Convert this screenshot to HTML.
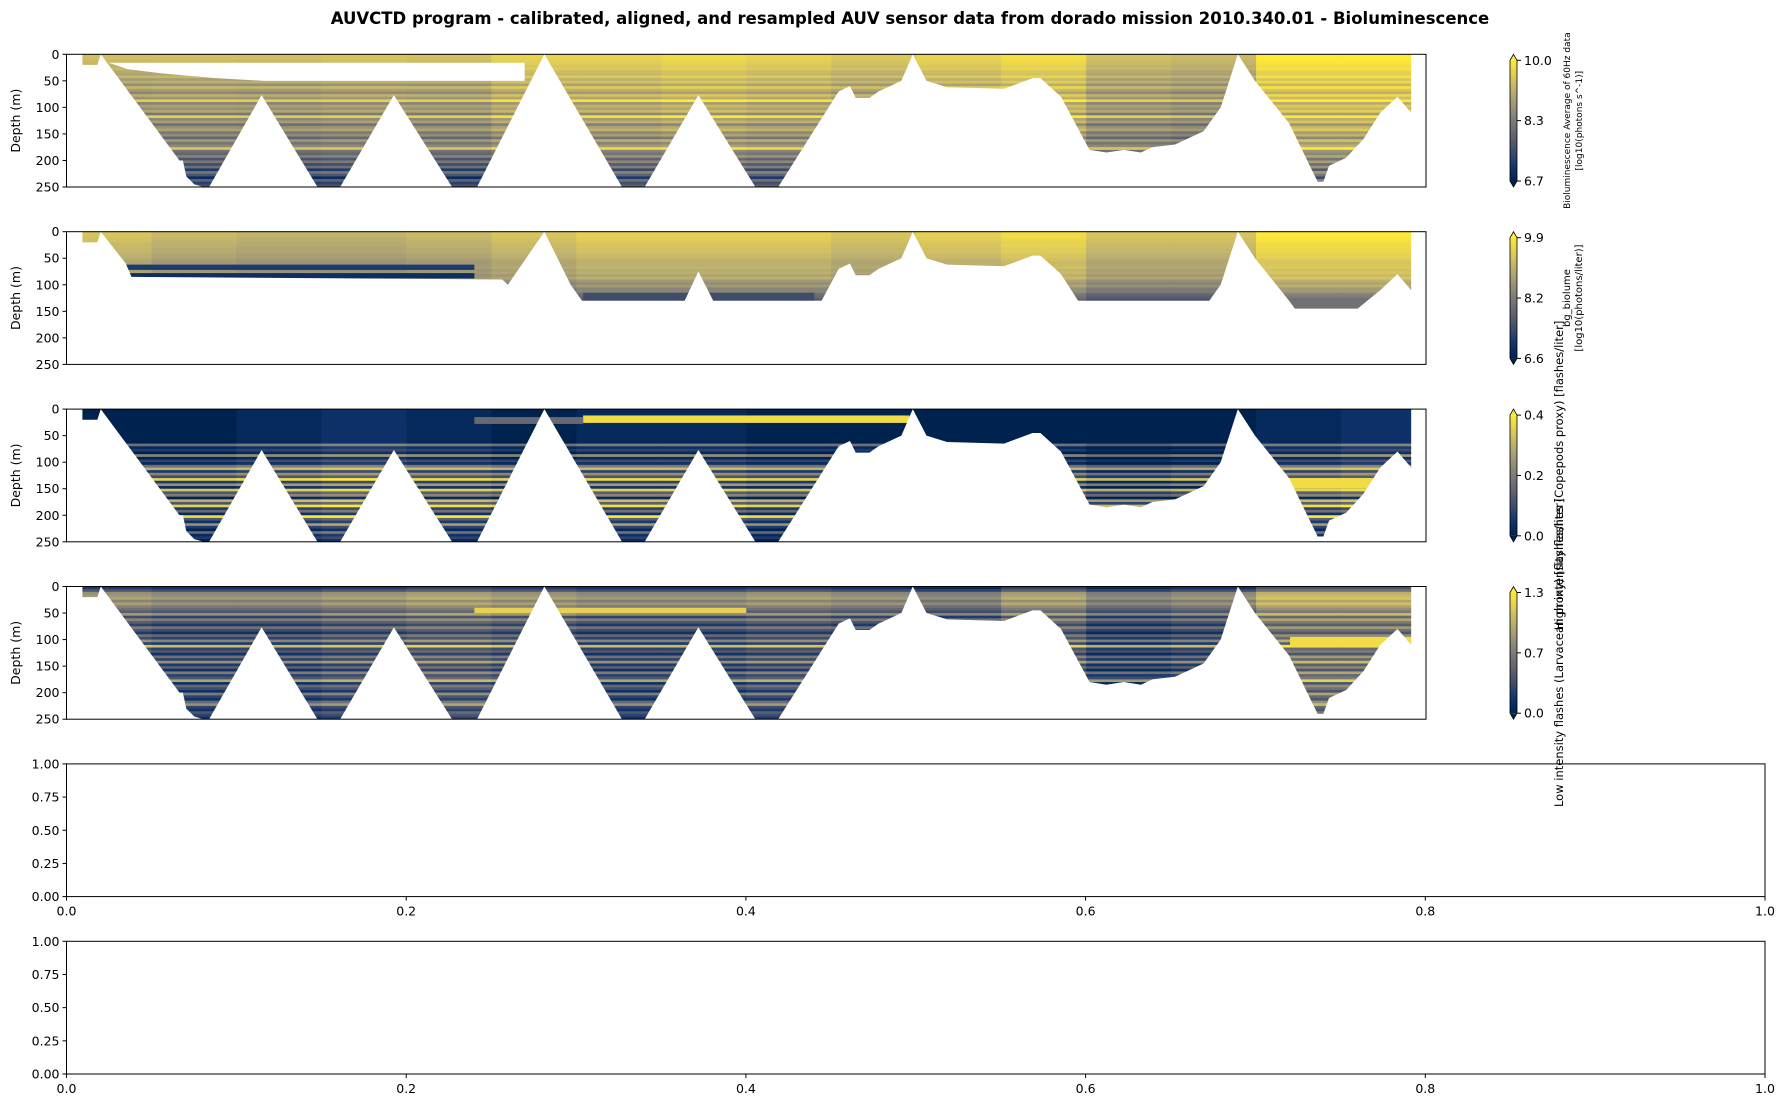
<!DOCTYPE html>
<html><head><meta charset="utf-8"><style>
html,body{margin:0;padding:0;background:#fff;}
svg{display:block;font-family:"DejaVu Sans","Liberation Sans",sans-serif;}
</style></head><body>
<svg id="fig" width="1787" height="1108" viewBox="0 0 1787 1108" xmlns="http://www.w3.org/2000/svg">
<text x="910" y="24" text-anchor="middle" font-size="16.5" font-weight="bold">AUVCTD program - calibrated, aligned, and resampled AUV sensor data from dorado mission 2010.340.01 - Bioluminescence</text>
</svg>
<script>
// ---- data ----
const depthTicks = [0,50,100,150,200,250];
const unitTicks = ["0.00","0.25","0.50","0.75","1.00"];
const xTicks = ["0.0","0.2","0.4","0.6","0.8","1.0"];
const profileMain = [[0.0117,20],[0.0227,20],[0.0252,0],[0.0831,200],[0.0856,200],[0.0881,230],[0.094,245],[0.1007,250],[0.1049,250],[0.1435,77],[0.1846,250],[0.2013,250],[0.2408,77],[0.2836,250],[0.302,250],[0.3515,0],[0.4086,250],[0.4253,250],[0.4648,77],[0.5067,250],[0.5235,250],[0.568,70],[0.5763,60],[0.5805,82],[0.5906,82],[0.5973,70],[0.6141,50],[0.6225,0],[0.6326,50],[0.6477,62],[0.6896,65],[0.7106,45],[0.7164,45],[0.7315,80],[0.7525,180],[0.765,185],[0.7777,180],[0.7903,185],[0.7987,175],[0.8154,170],[0.8364,145],[0.849,100],[0.8616,0],[0.8742,50],[0.8993,130],[0.9203,240],[0.9245,240],[0.9287,210],[0.9413,195],[0.9539,160],[0.9664,110],[0.979,80],[0.9891,110]];
const profileBg = [[0.0117,20],[0.0227,20],[0.0252,0],[0.0436,60],[0.0478,85],[0.3205,90],[0.3247,100],[0.3515,0],[0.3708,100],[0.3792,130],[0.4547,130],[0.4648,75],[0.4757,130],[0.5554,130],[0.568,70],[0.5763,60],[0.5805,82],[0.5906,82],[0.5973,70],[0.6141,50],[0.6225,0],[0.6326,50],[0.6477,62],[0.6896,65],[0.7106,45],[0.7164,45],[0.7315,80],[0.7441,130],[0.8406,130],[0.849,100],[0.8616,0],[0.8742,50],[0.8993,130],[0.9035,145],[0.9497,145],[0.9664,110],[0.979,80],[0.9891,110]];
const rowsP1 = [0.86,0.86,0.84,0.83,0.8,0.82,0.76,0.74,0.82,0.7,0.78,0.64,0.82,0.7,0.6,0.78,0.66,0.92,0.58,0.72,0.64,0.74,0.52,0.92,0.6,0.7,0.48,0.64,0.72,0.52,0.62,0.42,0.68,0.5,0.6,0.88,0.48,0.42,0.56,0.32,0.52,0.28,0.46,0.18,0.5,0.32,0.1,0.4,0.22,0.3];
const colsP1 = [-0.04,-0.03,-0.04,-0.02,-0.03,0.05,0.05,0.08,0.05,0.0,0.05,0.1,-0.03,-0.06,0.15,0.15];
const patchesP1 = [];
const rowsP2 = [0.85,0.85,0.83,0.82,0.8,0.8,0.78,0.78,0.76,0.75,0.72,0.7,0.7,0.72,0.68,0.7,0.65,0.7,0.6,0.55,0.6,0.5,0.5,0.4,0.35,0.3,0.3,0.3,0.3,0.3,0.3,0.3,0.3,0.3,0.3,0.3,0.3,0.3,0.3,0.3,0.3,0.3,0.3,0.3,0.3,0.3,0.3,0.3,0.3,0.3];
const colsP2 = [0,-0.05,-0.08,-0.08,-0.05,0,0.05,0.05,0.05,0,0.05,0.1,0.0,0.0,0.15,0.15];
const patchesP2 = [[0.04,0.3,62,72,0.15],[0.04,0.3,78,88,0.08],[0.38,0.55,115,130,0.25]];
const rowsP3 = [0,0,0,0,0,0,0,0,0,0,0,0,0,0.45,0.05,0.15,0,0.55,0,0.2,0.05,0.45,0.75,0.15,0.55,0.25,0.9,0.15,0.6,0.05,0.85,0.3,0.5,0,0.75,0.3,0.9,0.15,0.4,0.05,0.95,0.3,0.1,0.6,0.15,0,0.4,0.05,0.15,0];
const colsP3 = [0,0,0.05,0.1,0.05,0,0.05,0.05,0,0,0,0,-0.1,-0.05,0.05,0.1];
const patchesP3 = [[0.38,0.62,12,26,0.95],[0.3,0.38,15,28,0.4],[0.9,0.97,130,150,0.95]];
const rowsP4 = [0.1,0.25,0.55,0.6,0.65,0.5,0.62,0.5,0.4,0.3,0.6,0.2,0.5,0.3,0.15,0.45,0.25,0.1,0.4,0.2,0.55,0.15,0.8,0.2,0.3,0.1,0.45,0.2,0.6,0.15,0.35,0.1,0.5,0.2,0.3,0.7,0.1,0.4,0.25,0.1,0.5,0.2,0.1,0.4,0.6,0.2,0.1,0.3,0.2,0.1];
const colsP4 = [0.05,0,0,0.05,0.1,0.05,0,0,0.05,0,-0.05,0.1,-0.05,0,0.2,0.2];
const patchesP4 = [[0.3,0.5,40,50,0.9],[0.9,0.99,95,115,0.95]];
const cbTicksP1 = ["10.0","8.3","6.7"];
const cbTicksP2 = ["9.9","8.2","6.6"];
const cbTicksP3 = ["0.4","0.2","0.0"];
const cbTicksP4 = ["1.3","0.7","0.0"];

// ---- layout ----
const NS="http://www.w3.org/2000/svg";
const svg=document.getElementById('fig');
const AX_L=66.5, AX_R=1426, AX_R2=1765, H=132.7;
const tops=[54.3,231.7,409.1,586.5,763.9,941.3];
function mk(tag,attrs,parent){const e=document.createElementNS(NS,tag);for(const k in attrs)e.setAttribute(k,attrs[k]);(parent||svg).appendChild(e);return e;}
const stops=[[0,[0,34,78]],[0.125,[18,53,112]],[0.25,[63,77,107]],[0.375,[96,99,112]],[0.5,[124,123,120]],[0.625,[155,148,119]],[0.75,[188,175,111]],[0.875,[223,203,90]],[1,[254,232,56]]];
function cmap(v){v=Math.max(0,Math.min(1,v));for(let i=1;i<stops.length;i++){if(v<=stops[i][0]){const a=stops[i-1],b=stops[i];const t=(v-a[0])/(b[0]-a[0]);const c=a[1].map((x,j)=>Math.round(x+(b[1][j]-x)*t));return `rgb(${c[0]},${c[1]},${c[2]})`;}}return 'rgb(254,232,56)';}

const panels=[
 {rows:rowsP1,cols:colsP1,patches:patchesP1,prof:profileMain,cb:cbTicksP1,name:'biolume-avg'},
 {rows:rowsP2,cols:colsP2,patches:patchesP2,prof:profileBg,cb:cbTicksP2,name:'bg-biolume'},
 {rows:rowsP3,cols:colsP3,patches:patchesP3,prof:profileMain,cb:cbTicksP3,name:'high-intensity-flashes'},
 {rows:rowsP4,cols:colsP4,patches:patchesP4,prof:profileMain,cb:cbTicksP4,name:'low-intensity-flashes'}
];
panels.forEach((p,i)=>{
 const top=tops[i], W=AX_R-AX_L;
 const xs=f=>AX_L+f*W, ys=d=>top+d/250*H;
 const g=mk('g',{});
 
 
 const cp=mk('clipPath',{id:'cp'+i},g);
 mk('rect',{x:AX_L,y:top,width:W,height:H},cp);
 const hm=mk('g',{'clip-path':`url(#cp${i})`},g);
 
 
 const nr=p.rows.length, nc=p.cols.length;
 for(let r=0;r<nr;r++)for(let c=0;c<nc;c++){
   const v=p.rows[r]+p.cols[c];
   const el=mk('rect',{x:xs(c/nc),y:ys(r*250/nr),width:W/nc+0.6,height:H/nr+0.6,fill:cmap(v)},hm);
   
   
 }
 p.patches.forEach(pt=>{
   const el=mk('rect',{x:xs(pt[0]),y:ys(pt[2]),width:xs(pt[1])-xs(pt[0]),height:ys(pt[3])-ys(pt[2]),fill:cmap(pt[4])},hm);
   
   
 });
 const pr=p.prof;
 let d=`M${xs(0)},${ys(0)} L${xs(pr[0][0])},${ys(0)} L${xs(pr[0][0])},${ys(pr[0][1])} `;
 pr.forEach(q=>{d+=`L${xs(q[0])},${ys(q[1])} `;});
 const last=pr[pr.length-1][0];
 d+=`L${xs(last)},${ys(0)} L${xs(1)},${ys(0)} L${xs(1)},${ys(260)} L${xs(0)},${ys(260)} Z`;
 const m=mk('path',{d:d,fill:'#fff'},hm);
 
 
 if(i===0){
   const wb=mk('polygon',{points:`${xs(0.031)},${ys(16)} ${xs(0.337)},${ys(16)} ${xs(0.337)},${ys(50)} ${xs(0.145)},${ys(50)} ${xs(0.11)},${ys(45)} ${xs(0.07)},${ys(36)} ${xs(0.045)},${ys(28)}`,fill:'#fff'},hm);
   
   
 }
 const fr=mk('rect',{x:AX_L,y:top,width:W,height:H,fill:'none',stroke:'#000','stroke-width':1},g);
 
 
 depthTicks.forEach(t=>{
   const y=ys(t);
   mk('line',{x1:AX_L-4,x2:AX_L,y1:y,y2:y,stroke:'#000','stroke-width':1},g);
   const tl=mk('text',{x:AX_L-7,y:y+4.5,'text-anchor':'end','font-size':12.5},g);
   tl.textContent=t;
   
   
 });
 const yl=mk('text',{x:0,y:0,'text-anchor':'middle','font-size':12.5,transform:`translate(20,${top+H/2}) rotate(-90)`},g);
 yl.textContent='Depth (m)';
 
 
 const cx=1510,cw=7,ct=top+6,cbh=H-12;
 const gid='cg'+i;
 const lg=mk('linearGradient',{id:gid,x1:0,y1:1,x2:0,y2:0},g);
 for(let k=0;k<=8;k++)mk('stop',{offset:k/8,'stop-color':cmap(k/8)},lg);
 const cb=mk('g',{},g);
 
 
 mk('rect',{x:cx,y:ct,width:cw,height:cbh,fill:`url(#${gid})`},cb);
 mk('polygon',{points:`${cx},${ct} ${cx+cw/2},${ct-6} ${cx+cw},${ct}`,fill:cmap(1)},cb);
 mk('polygon',{points:`${cx},${ct+cbh} ${cx+cw/2},${ct+cbh+6} ${cx+cw},${ct+cbh}`,fill:cmap(0)},cb);
 mk('path',{d:`M${cx},${ct} L${cx+cw/2},${ct-6} L${cx+cw},${ct} L${cx+cw},${ct+cbh} L${cx+cw/2},${ct+cbh+6} L${cx},${ct+cbh} Z`,fill:'none',stroke:'#000','stroke-width':0.8},cb);
 p.cb.forEach((t,k)=>{
   const y=ct+k*cbh/2;
   mk('line',{x1:cx+cw,x2:cx+cw+4,y1:y,y2:y,stroke:'#000','stroke-width':1},cb);
   const tl=mk('text',{x:cx+cw+7,y:y+4.5,'font-size':12.5},cb);
   tl.textContent=t;
   
   
 });
});
function rtext(x,y,fs,txt,name){const t=mk('text',{x:0,y:0,'text-anchor':'middle','font-size':fs,transform:`translate(${x},${y}) rotate(-90)`});t.textContent=txt;return t;}
rtext(1570,tops[0]+H/2,9,'Bioluminescence Average of 60Hz data','colorbar1-title');
rtext(1582,tops[0]+H/2,9,'[log10(photons s^-1)]','colorbar1-units');
rtext(1570,tops[1]+H/2,10,'bg_biolume','colorbar2-title');
rtext(1582,tops[1]+H/2,10,'[log10(photons/liter)]','colorbar2-units');
rtext(1563,tops[2]+H/2,11.5,'High intensity flashes (Copepods proxy) [flashes/liter]','colorbar3-title');
rtext(1563,tops[3]+H/2,11.5,'Low intensity flashes (Larvacean proxy) [flashes/liter]','colorbar4-title');
[4,5].forEach(i=>{
 const top=tops[i], W=AX_R2-AX_L;
 const g=mk('g',{});
 
 
 const fr=mk('rect',{x:AX_L,y:top,width:W,height:H,fill:'none',stroke:'#000','stroke-width':1},g);
 
 
 unitTicks.forEach((t,k)=>{
   const y=top+H-k*H/(unitTicks.length-1);
   mk('line',{x1:AX_L-4,x2:AX_L,y1:y,y2:y,stroke:'#000','stroke-width':1},g);
   const tl=mk('text',{x:AX_L-7,y:y+4.5,'text-anchor':'end','font-size':12.5},g);
   tl.textContent=t;
   
   
 });
 xTicks.forEach((t,k)=>{
   const x=AX_L+k*W/(xTicks.length-1);
   mk('line',{x1:x,x2:x,y1:top+H,y2:top+H+4,stroke:'#000','stroke-width':1},g);
   const tl=mk('text',{x:x,y:top+H+19,'text-anchor':'middle','font-size':12.5},g);
   tl.textContent=t;
   
   
 });
});
</script>
</body></html>
